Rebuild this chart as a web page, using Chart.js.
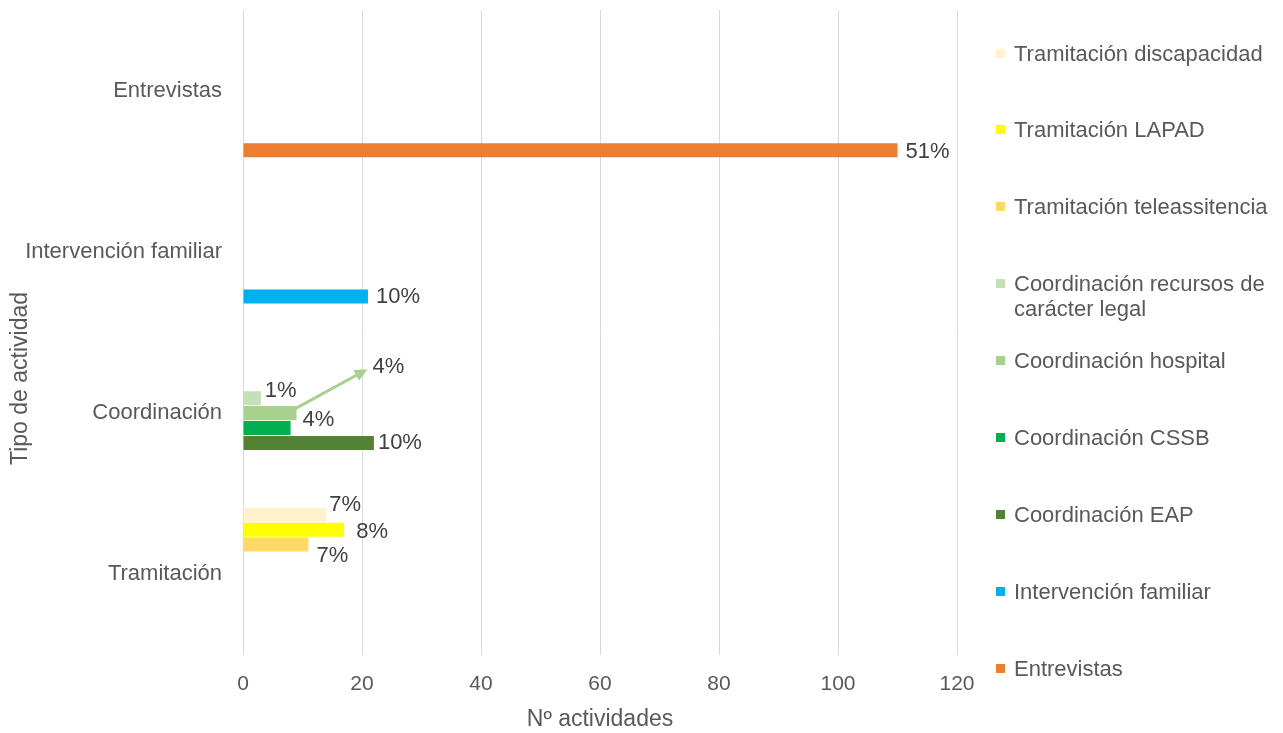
<!DOCTYPE html>
<html lang="es">
<head>
    <meta charset="UTF-8">
    <title>Tipo de actividad</title>
    <script src="https://cdn.jsdelivr.net/npm/chart.js"></script>
    <style>
        body {
            margin: 0;
            background-color: #ffffff;
            font-family: "Liberation Sans", Arial, sans-serif;
        }
        .wrap {
            position: relative;
            width: 1283px;
            height: 733px;
        }
        .legend-item {
            position: absolute;
            left: 996px;
            width: 285px;
            font-size: 22px;
            line-height: 25px;
            color: #595959;
        }
        .legend-item .box {
            position: absolute;
            left: 0;
            top: 8px;
            width: 9px;
            height: 9px;
        }
        .legend-item .txt {
            margin-left: 18px;
            width: 262px;
        }
    </style>
</head>
<body>

<div class="wrap">
    <canvas id="actividadChart"></canvas>
    <div id="legend"></div>
</div>

<script>
    // Datos
    const categories = ['Entrevistas', 'Intervención familiar', 'Coordinación', 'Tramitación'];
    const seriesNames = [
        'Tramitación discapacidad',
        'Tramitación LAPAD',
        'Tramitación teleassitencia',
        'Coordinación recursos de carácter legal',
        'Coordinación hospital',
        'Coordinación CSSB',
        'Coordinación EAP',
        'Intervención familiar',
        'Entrevistas'
    ];
    const seriesCategory = ['Tramitación', 'Tramitación', 'Tramitación', 'Coordinación', 'Coordinación',
        'Coordinación', 'Coordinación', 'Intervención familiar', 'Entrevistas'];
    const seriesValues = [14, 17, 11, 3, 9, 8, 22, 21, 110];
    const percentLabels = ['7%', '8%', '7%', '1%', '4%', '4%', '10%', '10%', '51%'];
    const xTicks = [0, 20, 40, 60, 80, 100, 120];

    const seriesColors = ['#FFF2CC', '#FFFF00', '#FFD966', '#C5E0B4', '#A9D18E', '#00B050', '#548235', '#00B0F0', '#ED7D31'];
    // desplazamiento de cada etiqueta respecto al final de la barra
    const labelShift = [[-5, -10], [4, 2], [0, 11], [-4, -7], [68, -46], [4, -8], [-4, 0], [0, 0], [0, 2]];
    const arrowSeries = 4;

    const datasets = seriesNames.map((name, i) => ({
        label: name,
        data: categories.map(c => c === seriesCategory[i] ? seriesValues[i] : null),
        backgroundColor: seriesColors[i],
        categoryPercentage: 0.832,
        barPercentage: 0.94
    }));

    // Etiquetas de porcentaje
    const pctPlugin = {
        id: 'pctLabels',
        afterDatasetsDraw(chart) {
            const ctx = chart.ctx;
            ctx.save();
            ctx.font = '22px "Liberation Sans", Arial, sans-serif';
            ctx.fillStyle = '#404040';
            ctx.textAlign = 'left';
            ctx.textBaseline = 'middle';
            chart.data.datasets.forEach((ds, i) => {
                const meta = chart.getDatasetMeta(i);
                ds.data.forEach((v, j) => {
                    if (v === null) return;
                    const bar = meta.data[j];
                    const lx = bar.x + 8 + labelShift[i][0];
                    const ly = bar.y + labelShift[i][1];
                    if (i === arrowSeries) {
                        const x0 = bar.x - 4, y0 = bar.y - 3;
                        const x1 = lx - 5, y1 = ly + 2;
                        const ang = Math.atan2(y1 - y0, x1 - x0);
                        ctx.strokeStyle = seriesColors[i];
                        ctx.fillStyle = seriesColors[i];
                        ctx.lineWidth = 3;
                        ctx.beginPath();
                        ctx.moveTo(x0, y0);
                        ctx.lineTo(x1 - 8 * Math.cos(ang), y1 - 8 * Math.sin(ang));
                        ctx.stroke();
                        ctx.beginPath();
                        ctx.moveTo(x1, y1);
                        ctx.lineTo(x1 - 13 * Math.cos(ang) + 6 * Math.sin(ang), y1 - 13 * Math.sin(ang) - 6 * Math.cos(ang));
                        ctx.lineTo(x1 - 13 * Math.cos(ang) - 6 * Math.sin(ang), y1 - 13 * Math.sin(ang) + 6 * Math.cos(ang));
                        ctx.closePath();
                        ctx.fill();
                        ctx.fillStyle = '#404040';
                    }
                    ctx.fillText(percentLabels[i], lx, ly);
                });
            });
            ctx.restore();
        }
    };

    // Título del eje Y
    const yTitlePlugin = {
        id: 'yTitle',
        afterDraw(chart) {
            const ctx = chart.ctx;
            const a = chart.chartArea;
            ctx.save();
            ctx.translate(21, (a.top + a.bottom) / 2 + 46);
            ctx.rotate(-Math.PI / 2);
            ctx.font = '23px "Liberation Sans", Arial, sans-serif';
            ctx.fillStyle = '#595959';
            ctx.textAlign = 'center';
            ctx.textBaseline = 'middle';
            ctx.fillText('Tipo de actividad', 0, 0);
            ctx.restore();
        }
    };

    const ctxAct = document.getElementById('actividadChart').getContext('2d');
    const actividadChart = new Chart(ctxAct, {
        type: 'bar',
        data: {
            labels: categories,
            datasets: datasets
        },
        options: {
            indexAxis: 'y',
            responsive: true,
            maintainAspectRatio: false,
            animation: false,
            layout: {
                padding: { top: 10, right: 326, bottom: 0, left: 25 }
            },
            plugins: {
                legend: { display: false },
                tooltip: { enabled: false }
            },
            scales: {
                x: {
                    min: 0,
                    max: 120,
                    afterBuildTicks: axis => { axis.ticks = xTicks.map(v => ({ value: v })); },
                    afterFit: scale => { scale.height = 78; },
                    grid: { color: '#d9d9d9', lineWidth: 1, drawTicks: false },
                    border: { display: false },
                    ticks: {
                        color: '#595959',
                        padding: 17,
                        font: { family: '"Liberation Sans", Arial, sans-serif', size: 21 }
                    },
                    title: {
                        display: true,
                        text: 'Nº actividades',
                        color: '#595959',
                        padding: { top: 8, bottom: 0 },
                        font: { family: '"Liberation Sans", Arial, sans-serif', size: 23 }
                    }
                },
                y: {
                    grid: { display: false, drawTicks: false },
                    border: { display: false },
                    afterFit: scale => {
                        scale.width = 218;
                        scale.paddingTop = 0;
                        scale.paddingBottom = 0;
                    },
                    ticks: {
                        color: '#595959',
                        padding: 21,
                        font: { family: '"Liberation Sans", Arial, sans-serif', size: 22 }
                    }
                }
            }
        },
        plugins: [pctPlugin, yTitlePlugin]
    });

    // Leyenda
    const legendEl = document.getElementById('legend');
    seriesNames.forEach((name, i) => {
        const item = document.createElement('div');
        item.className = 'legend-item';
        item.style.top = (53 + i * 76.9 - 12.5) + 'px';
        item.innerHTML = '<span class="box" style="background:' + seriesColors[i] + '"></span><div class="txt">' + name + '</div>';
        legendEl.appendChild(item);
    });
</script>

</body>
</html>
